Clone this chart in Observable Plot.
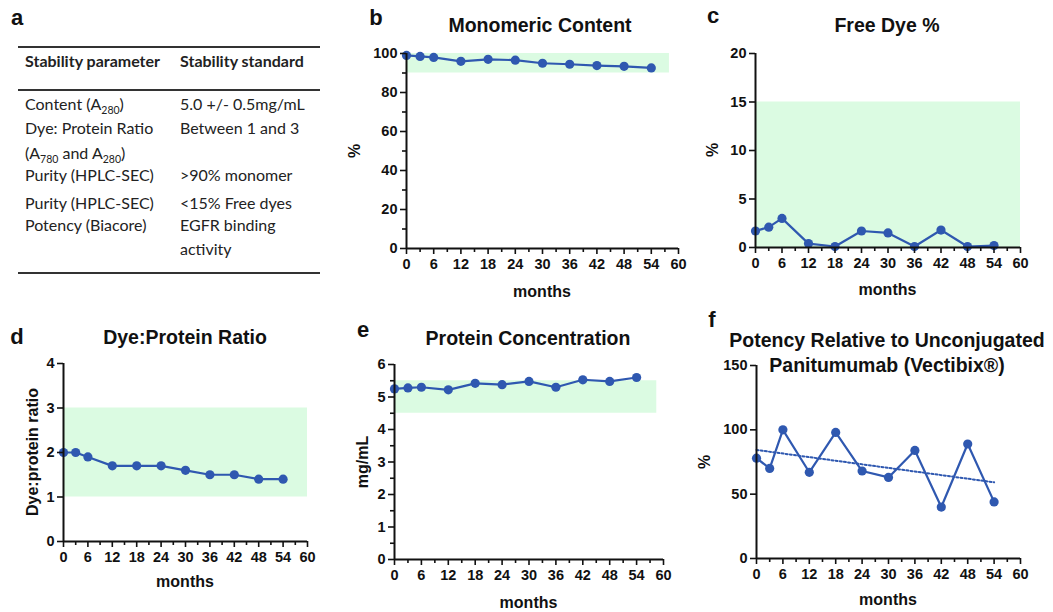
<!DOCTYPE html>
<html>
<head>
<meta charset="utf-8">
<script src="https://cdn.jsdelivr.net/npm/d3@7"></script>
<script src="https://cdn.jsdelivr.net/npm/@observablehq/plot@0.6"></script>
<style>
  html, body { margin: 0; padding: 0; background: #fff; }
  #root { position: relative; width: 1053px; height: 612px; overflow: hidden; font-family: "Liberation Sans", Arial, sans-serif; }
  .abs { position: absolute; white-space: nowrap; }
  .c { transform: translate(-50%, -50%); }
  .title { font-weight: bold; font-size: 19.5px; color: #111; }
  .letter { font-weight: bold; font-size: 22px; color: #111; }
  .axl { font-weight: bold; font-size: 16px; color: #111; }
  .rot { transform: translate(-50%, -50%) rotate(-90deg); }
  .tbl { font-family: Lato, "Open Sans", sans-serif; font-size: 16px; color: #222; transform: translateY(-50%); }
  .tbl sub { font-size: 10.5px; vertical-align: -4px; line-height: 0; }
  .hrule { position: absolute; height: 1.5px; background: #333; }
</style>
</head>
<body>
<div id="root"></div>
<script>
// ---- data ----
const months = [0, 3, 6, 12, 18, 24, 30, 36, 42, 48, 54];
const monomericContent = [99, 98.5, 98, 96, 97, 96.6, 95, 94.5, 93.8, 93.4, 92.6];
const freeDye = [1.7, 2.1, 3.0, 0.4, 0.1, 1.7, 1.5, 0.1, 1.8, 0.1, 0.2];
const dyeProteinRatio = [2.0, 2.0, 1.9, 1.7, 1.7, 1.7, 1.6, 1.5, 1.5, 1.4, 1.4];
const proteinConc = [5.25, 5.28, 5.3, 5.22, 5.42, 5.38, 5.48, 5.3, 5.53, 5.48, 5.6];
const potency = [78, 70, 100, 67, 98, 68, 63, 84, 40, 89, 44];

const xMajorTicks = [0, 6, 12, 18, 24, 30, 36, 42, 48, 54, 60];
const xMinorTicks = [3, 9, 15, 21, 27, 33, 39, 45, 51, 57];

// stability standard bands
const bandMonomer = [{x1: 0, x2: 58, y1: 90, y2: 100}];
const bandFreeDye = [{x1: 0, x2: 60, y1: 0, y2: 15}];
const bandRatio = [{x1: 0, x2: 60, y1: 1, y2: 3}];
const bandConc = [{x1: 0, x2: 58.5, y1: 4.5, y2: 5.5}];

// table a
const tableHeaders = ["Stability parameter", "Stability standard"];
const tableParams = ["Content (A<sub>280</sub>)", "Dye: Protein Ratio", "(A<sub>780</sub> and A<sub>280</sub>)", "Purity (HPLC-SEC)", "Purity (HPLC-SEC)", "Potency (Biacore)", ""];
const tableStandards = ["5.0 +/- 0.5mg/mL", "Between 1 and 3", "", ">90% monomer", "<15% Free dyes", "EGFR binding", "activity"];

// ---- layout ----
const root = document.getElementById("root");
const blue = "#2f58b0";
const bandFill = "#dbfbe2";

function addText(html, cls, x, y) {
  const d = document.createElement("div");
  d.className = "abs " + cls;
  d.style.left = x + "px";
  d.style.top = y + "px";
  d.innerHTML = html;
  root.appendChild(d);
  return d;
}
function addRule(x1, x2, y) {
  const d = document.createElement("div");
  d.className = "hrule";
  d.style.left = x1 + "px";
  d.style.width = (x2 - x1) + "px";
  d.style.top = y + "px";
  root.appendChild(d);
}

function panel(c) {
  const mL = 50, mR = 25, mT = 12, mB = 40;
  const w = c.x60 - c.x0 + mL + mR;
  const h = c.yBot - c.yTop + mT + mB;
  const data = months.map((m, i) => ({m, v: c.values[i]}));
  const marks = [];
  if (c.band) marks.push(Plot.rect(c.band, {x1: "x1", x2: "x2", y1: "y1", y2: "y2", fill: bandFill}));
  if (c.trend) marks.push(Plot.linearRegressionY(data, {x: "m", y: "v", ci: 0, stroke: blue, strokeWidth: 2, strokeDasharray: "2,2.2"}));
  marks.push(Plot.line(data, {x: "m", y: "v", stroke: blue, strokeWidth: 2.2}));
  marks.push(Plot.dot(data, {x: "m", y: "v", r: 4.6, fill: blue}));
  marks.push(Plot.axisX(xMajorTicks, {tickSize: 6, tickPadding: 4, strokeWidth: 1.6, label: null}));
  marks.push(Plot.axisX(xMinorTicks, {tickSize: 4, text: null, strokeWidth: 1.6, label: null}));
  marks.push(Plot.axisY(c.yTicks, {tickSize: 6, tickPadding: 3, strokeWidth: 1.6, label: null}));
  if (c.yMinor) marks.push(Plot.axisY(c.yMinor, {tickSize: 4, text: null, strokeWidth: 1.6, label: null}));
  marks.push(Plot.ruleY([c.yDomain[0]], {strokeWidth: 2}));
  marks.push(Plot.ruleX([0], {strokeWidth: 2}));
  const svg = Plot.plot({
    width: w, height: h,
    marginLeft: mL, marginRight: mR, marginTop: mT, marginBottom: mB,
    x: {domain: [0, 60]},
    y: {domain: c.yDomain},
    style: {fontFamily: "'Liberation Sans', Arial, sans-serif", fontWeight: "bold", fontSize: "14.5px", color: "#111", background: "transparent", overflow: "visible"},
    marks
  });
  svg.style.position = "absolute";
  svg.style.left = (c.x0 - mL) + "px";
  svg.style.top = (c.yTop - mT) + "px";
  root.appendChild(svg);
  // texts
  addText(c.letter, "letter c", c.letterX, c.letterY);
  c.title.forEach((t, i) => addText(t, "title c", c.titleX, c.titleY + i * 25));
  addText(c.ylabel, "axl rot", c.ylabelX, (c.yTop + c.yBot) / 2);
  addText("months", "axl c", (c.x0 + c.x60) / 2, c.monthsY);
}

// table a
addText("a", "letter c", 17, 18);
addRule(18, 320, 46);
addRule(18, 320, 89);
addRule(18, 320, 272);
addText("<b>" + tableHeaders[0] + "</b>", "tbl", 25, 60);
addText("<b>" + tableHeaders[1] + "</b>", "tbl", 180, 60);
const rowY = [103, 127, 152, 174, 202, 224, 248];
tableParams.forEach((t, i) => { if (t) addText(t, "tbl", 25, rowY[i]); });
tableStandards.forEach((t, i) => { if (t) addText(t.replace(/</g, "&lt;").replace(/>/g, "&gt;"), "tbl", 180, rowY[i]); });

panel({letter: "b", letterX: 376, letterY: 18, title: ["Monomeric Content"], titleX: 540, titleY: 25,
  ylabel: "%", ylabelX: 355, monthsY: 292,
  x0: 406, x60: 678, yTop: 53, yBot: 248, yDomain: [0, 100], yTicks: [0, 20, 40, 60, 80, 100], yMinor: [10, 30, 50, 70, 90],
  values: monomericContent, band: bandMonomer});

panel({letter: "c", letterX: 713, letterY: 16, title: ["Free Dye %"], titleX: 887, titleY: 25,
  ylabel: "%", ylabelX: 713, monthsY: 290,
  x0: 755, x60: 1020, yTop: 53, yBot: 247, yDomain: [0, 20], yTicks: [0, 5, 10, 15, 20],
  values: freeDye, band: bandFreeDye});

panel({letter: "d", letterX: 17, letterY: 337, title: ["Dye:Protein Ratio"], titleX: 185, titleY: 337,
  ylabel: "Dye:protein ratio", ylabelX: 33, monthsY: 582,
  x0: 63, x60: 307, yTop: 363, yBot: 541, yDomain: [0, 4], yTicks: [0, 1, 2, 3, 4],
  values: dyeProteinRatio, band: bandRatio});

panel({letter: "e", letterX: 363, letterY: 330, title: ["Protein Concentration"], titleX: 528, titleY: 338,
  ylabel: "mg/mL", ylabelX: 363, monthsY: 603,
  x0: 394, x60: 663, yTop: 364, yBot: 559, yDomain: [0, 6], yTicks: [0, 1, 2, 3, 4, 5, 6], yMinor: [0.5, 1.5, 2.5, 3.5, 4.5, 5.5],
  values: proteinConc, band: bandConc});

panel({letter: "f", letterX: 712, letterY: 320, title: ["Potency Relative to Unconjugated", "Panitumumab (Vectibix\u00AE)"], titleX: 887, titleY: 340,
  ylabel: "%", ylabelX: 705, monthsY: 600,
  x0: 756, x60: 1020, yTop: 365, yBot: 558, yDomain: [0, 150], yTicks: [0, 50, 100, 150],
  values: potency, trend: true});
</script>
</body>
</html>
